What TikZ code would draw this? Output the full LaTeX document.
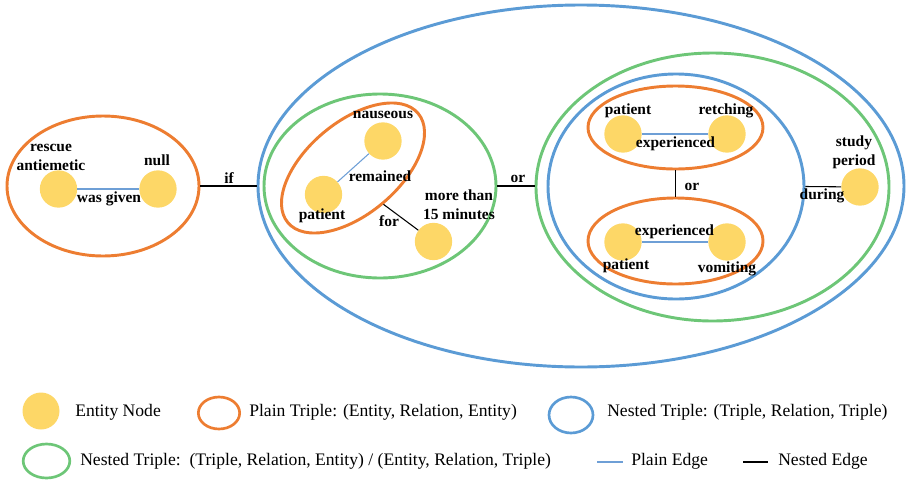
\documentclass[tikz,border=0pt]{standalone}
\usepackage{fontspec}
\setmainfont{Liberation Serif}
\usetikzlibrary{shapes.geometric}

\definecolor{entityfill}{HTML}{FDD767}
\definecolor{tripleorange}{HTML}{ED7D31}
\definecolor{nestblue}{HTML}{5B9BD5}
\definecolor{nestgreen}{HTML}{6DC677}
\definecolor{plainline}{HTML}{6E9FD6}

\tikzset{
  entity/.style={circle, fill=entityfill, minimum size=28pt, inner sep=0pt},
  lbl/.style={font=\fontsize{11.6}{12}\selectfont\bfseries, inner sep=0pt,
              text height=0.66em, text depth=0.2em},
  ring/.style={ellipse, inner sep=0pt, line width=2.2pt},
  plaintriple/.style={ring, draw=tripleorange},
  nestedtt/.style={ring, draw=nestblue},
  nestedte/.style={ring, draw=nestgreen},
  plainedge/.style={draw=plainline, line width=0.8pt},
  nestededge/.style={draw=black, line width=0.8pt},
  legtext/.style={font=\fontsize{13.2}{14}\selectfont, anchor=west, inner sep=0pt,
                  text height=0.66em, text depth=0.2em}
}

\begin{document}
\begin{tikzpicture}[x=0.75pt, y=-0.75pt]
\useasboundingbox (0,0) rectangle (906,482);

% ---- triples (rings) ----
\node[plaintriple, minimum width=144pt, minimum height=105pt] (given) at (103,186) {};
\node[nestedtt, minimum width=484.5pt, minimum height=271.5pt] (outer) at (581,186) {};
\node[nestedte, minimum width=174pt, minimum height=138pt] (nauseaT) at (380,186) {};
\node[plaintriple, minimum width=127.5pt, minimum height=69pt, rotate=40] (remained) at (353,168) {};
\node[nestedte, minimum width=264.75pt, minimum height=201pt] (duringT) at (712.5,187) {};
\node[nestedtt, minimum width=192pt, minimum height=168.75pt] (orT) at (676,186.5) {};
\node[plaintriple, minimum width=131.25pt, minimum height=62.25pt] (retchT) at (675.5,127.5) {};
\node[plaintriple, minimum width=131.25pt, minimum height=64.5pt] (vomitT) at (675.5,241) {};

% ---- entities ----
\node[entity] (rescue) at (58.5,189) {};
\node[entity] (null) at (158,189) {};
\node[entity] (nauseous) at (383,141) {};
\node[entity] (patientA) at (323.5,194.5) {};
\node[entity] (minutes) at (433.5,241.5) {};
\node[entity] (patientB) at (623,134) {};
\node[entity] (retching) at (727,134) {};
\node[entity] (patientC) at (623,242) {};
\node[entity] (vomiting) at (727,242) {};
\node[entity] (study) at (860,187) {};

% ---- plain edges ----
\path[plainedge] (rescue) -- (null);
\path[plainedge] (patientA) -- (nauseous);
\path[plainedge] (patientB) -- (retching);
\path[plainedge] (patientC) -- (vomiting);

% ---- nested edges ----
\path[nestededge] (given.east) -- (given.east -| outer.west);
\path[nestededge] (remained.south) -- (minutes);
\path[nestededge] (nauseaT.east) -- (nauseaT.east -| duringT.west);
\path[nestededge] (retchT.south) -- (vomitT.north);
\path[nestededge] (orT.east) -- (study);

% ---- labels ----
\node[lbl] (l1) at (51,148) {rescue};
\node[lbl] (l2) at (51,167) {antiemetic};
\node[lbl] (l3) at (157,162) {null};
\node[lbl] (l4) at (109,199) {was given};
\node[lbl] (l5) at (229,180) {if};
\node[lbl] (l6) at (383,115) {nauseous};
\node[lbl] (l7) at (380,178) {remained};
\node[lbl] (l8) at (322,216) {patient};
\node[lbl] (l9) at (459,197) {more than};
\node[lbl] (l10) at (459,216) {15 minutes};
\node[lbl] (l11) at (389,223) {for};
\node[lbl] (l12) at (518,179) {or};
\node[lbl] (l13) at (628,111) {patient};
\node[lbl] (l14) at (726,111) {retching};
\node[lbl] (l15) at (675.5,144) {experienced};
\node[lbl] (l16) at (692,187) {or};
\node[lbl] (l17) at (674.5,232) {experienced};
\node[lbl] (l18) at (626,266) {patient};
\node[lbl] (l19) at (727,269) {vomiting};
\node[lbl] (l20) at (854,143) {study};
\node[lbl] (l21) at (854,162) {period};
\node[lbl] (l22) at (822,196) {during};

% ---- legend ----
\node[entity, minimum size=27.75pt] (kEnt) at (41,411) {};
\node[legtext] (kEntT) at (75,413) {Entity Node};
\node[plaintriple, minimum width=31pt, minimum height=24pt, line width=2pt] (kPlain) at (219,413) {};
\node[legtext] (kPlainT) at (249,413) {Plain Triple: (Entity, Relation, Entity)};
\node[nestedtt, minimum width=33pt, minimum height=27pt, line width=2pt] (kTT) at (571,415) {};
\node[legtext] (kTTT) at (607,413) {Nested Triple: (Triple, Relation, Triple)};
\node[nestedte, minimum width=35pt, minimum height=25.5pt, line width=2pt] (kTE) at (46.5,461) {};
\node[legtext] (kTET) at (80,462) {Nested Triple:\ \ (Triple, Relation, Entity) / (Entity, Relation, Triple)};
\coordinate (kPa) at (597,462);
\coordinate (kPb) at (623,462);
\path[plainedge] (kPa) -- (kPb);
\node[legtext] (kPT) at (631,462) {Plain Edge};
\coordinate (kNa) at (743,462);
\coordinate (kNb) at (768,462);
\path[nestededge] (kNa) -- (kNb);
\node[legtext] (kNT) at (778,462) {Nested Edge};
\end{tikzpicture}
\end{document}
